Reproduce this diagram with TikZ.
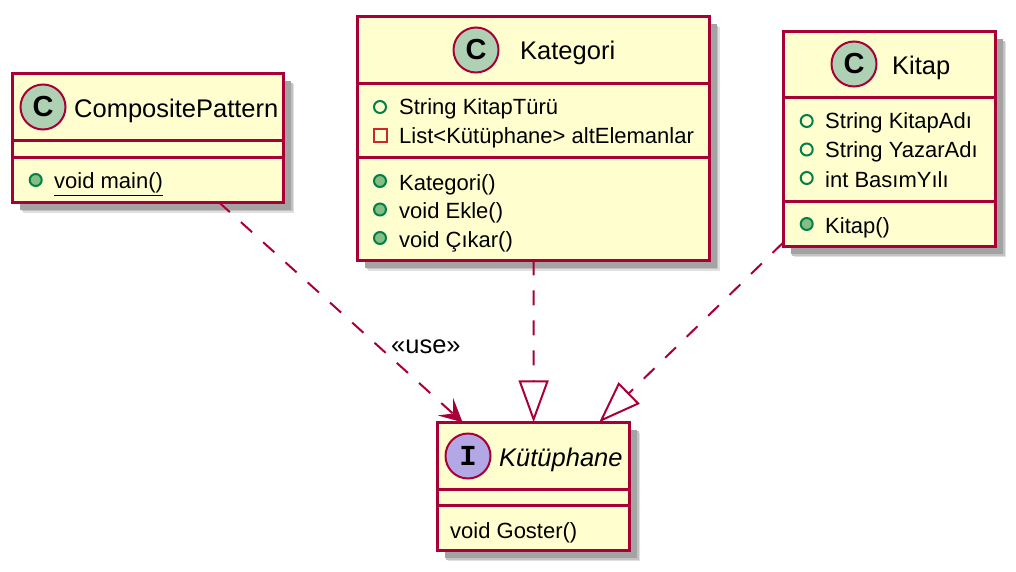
\documentclass[tikz,border=0pt]{standalone}
\usepackage{fontspec}
\setmainfont{Liberation Sans}
\newfontfamily\glyphfont{Liberation Mono}
\usetikzlibrary{arrows.meta,shadows}
\definecolor{umlred}{HTML}{A80036}
\definecolor{umlfill}{HTML}{FEFECE}
\definecolor{umlgreen}{HTML}{038048}
\definecolor{umlmeth}{HTML}{84BE84}
\definecolor{umlpriv}{HTML}{C82930}
\definecolor{spotc}{HTML}{ADD1B2}
\definecolor{spoti}{HTML}{B4A7E5}
\begin{document}
\begin{tikzpicture}
				[x=1pt,y=-1pt,
				classbox/.style={draw=umlred,fill=umlfill,line width=3pt,outer sep=0pt,
					drop shadow={shadow xshift=10.5pt,shadow yshift=-10.5pt,fill=black!12,opacity=1},
					drop shadow={shadow xshift=9pt,shadow yshift=-9pt,fill=black!24,opacity=1},
					drop shadow={shadow xshift=7.5pt,shadow yshift=-7.5pt,fill=black!36,opacity=1}},
				divider/.style={draw=umlred,line width=3pt},
				spot/.style={circle,draw=umlred,line width=2pt,minimum size=45pt,inner sep=0pt,font=\bfseries\fontsize{29}{29}\selectfont},
				title/.style={anchor=base west,inner sep=0pt,font=\fontsize{25.5}{25.5}\selectfont},
				member/.style={anchor=base west,inner sep=0pt,font=\fontsize{22}{22}\selectfont},
				pubfield/.style={circle,draw=umlgreen,line width=2pt,minimum size=12pt,inner sep=0pt},
				pubmethod/.style={pubfield,fill=umlmeth},
				privfield/.style={draw=umlpriv,line width=2pt,minimum size=13pt,inner sep=0pt},
				edge/.style={draw=umlred,line width=2pt,dash pattern=on 15pt off 15pt},
				usedep/.style={edge,-{Stealth[length=23pt,width=23pt,inset=10pt,umlred]}},
				realize/.style={edge,-{Triangle[open,length=42pt,width=30pt,umlred]}}]
				\useasboundingbox (0,0) rectangle (1016,572);

				\node[classbox,minimum width=271pt,minimum height=128pt] (comp) at (148,138) {};
				\node[classbox,minimum width=351.5pt,minimum height=243.5pt] (kat) at (533.7,138.7) {};
				\node[classbox,minimum width=212.5pt,minimum height=215pt] (kitap) at (889.5,139.2) {};
				\node[classbox,minimum width=192.7pt,minimum height=128.4pt] (kut) at (533.6,486.5) {};

				\draw[divider] (comp.west |- 0,140.5) -- (comp.east |- 0,140.5);
				\draw[divider] (comp.west |- 0,157.5) -- (comp.east |- 0,157.5);
				\draw[divider] (kat.west |- 0,84) -- (kat.east |- 0,84);
				\draw[divider] (kat.west |- 0,157.5) -- (kat.east |- 0,157.5);
				\draw[divider] (kitap.west |- 0,97.5) -- (kitap.east |- 0,97.5);
				\draw[divider] (kitap.west |- 0,201.5) -- (kitap.east |- 0,201.5);
				\draw[divider] (kut.west |- 0,489.3) -- (kut.east |- 0,489.3);
				\draw[divider] (kut.west |- 0,505.7) -- (kut.east |- 0,505.7);

				\node[spot,fill=spotc] (compspot) at (43,107) {C};
				\node[spot,fill=spotc] (katspot) at (476,50) {C};
				\node[spot,fill=spotc] (kitapspot) at (854,64) {C};
				\node[spot,fill=spoti,font=\glyphfont\bfseries\fontsize{29}{29}\selectfont] (kutspot) at (468,456) {I};

				\node[title] (comptitle) at (74,118) {CompositePattern};
				\node[title] (kattitle) at (520,60) {Kategori};
				\node[title] (kitaptitle) at (892,75) {Kitap};
				\node[title,font=\itshape\fontsize{25.5}{25.5}\selectfont] (kuttitle) at (499,466) {Kütüphane};

				\node[pubmethod] (compi1) at (35.7,180) {};
				\node[member] (compm1) at (54,189) {\underline{void main()}};

				\node[pubfield] (kati1) at (380,107) {};
				\node[privfield] (kati2) at (380,135.5) {};
				\node[pubmethod] (kati3) at (380,181) {};
				\node[pubmethod] (kati4) at (380,209.5) {};
				\node[pubmethod] (kati5) at (380,238) {};
				\node[member] (katm1) at (399,115) {String KitapTürü};
				\node[member] (katm2) at (399,144) {List<Kütüphane> altElemanlar};
				\node[member] (katm3) at (399,190) {Kategori()};
				\node[member] (katm4) at (399,218.5) {void Ekle()};
				\node[member] (katm5) at (399,247) {void Çıkar()};

				\node[pubfield] (kitapi1) at (806.7,121) {};
				\node[pubfield] (kitapi2) at (806.7,149.5) {};
				\node[pubfield] (kitapi3) at (806.7,178) {};
				\node[pubmethod] (kitapi4) at (806.7,224) {};
				\node[member] (kitapm1) at (825,129) {String KitapAdı};
				\node[member] (kitapm2) at (825,158) {String YazarAdı};
				\node[member] (kitapm3) at (825,187) {int BasımYılı};
				\node[member] (kitapm4) at (825,233) {Kitap()};

				\node[member] (kutm1) at (450,538) {void Goster()};

				\node[anchor=base west,inner sep=0pt,font=\fontsize{25.5}{25.5}\selectfont] (uselabel) at (391,353) {«use»};

				\draw[usedep] (comp) to (kut);
				\draw[realize] (kat) to (kut);
				\draw[realize] (kitap) to (kut);
				\end{tikzpicture}
\end{document}
